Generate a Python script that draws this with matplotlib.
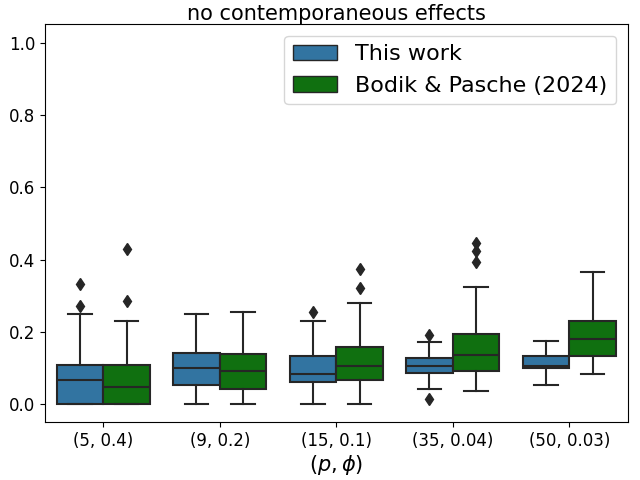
import matplotlib
matplotlib.use("Agg")
import matplotlib.pyplot as plt
import numpy as np

# (p, phi) settings
categories = ["(5, 0.4)", "(9, 0.2)", "(15, 0.1)", "(35, 0.04)", "(50, 0.03)"]
methods = ["This work", "Bodik & Pasche (2024)"]
colors = ["#3274a1", "#107010"]

# box summaries, one list per method
this_q1 = [0.0, 0.054, 0.062, 0.088, 0.101]
this_med = [0.067, 0.101, 0.083, 0.106, 0.106]
this_q3 = [0.108, 0.142, 0.133, 0.129, 0.133]
this_lo = [0.0, 0.0, 0.0, 0.042, 0.054]
this_hi = [0.251, 0.251, 0.231, 0.172, 0.176]
this_fliers = [[0.272, 0.332], [], [0.256], [0.192, 0.016], []]

bp_q1 = [0.0, 0.043, 0.068, 0.093, 0.134]
bp_med = [0.048, 0.092, 0.106, 0.137, 0.180]
bp_q3 = [0.108, 0.139, 0.158, 0.194, 0.231]
bp_lo = [0.0, 0.0, 0.0, 0.036, 0.084]
bp_hi = [0.231, 0.256, 0.281, 0.325, 0.367]
bp_fliers = [[0.285, 0.430], [], [0.323, 0.375], [0.395, 0.424, 0.447], []]


def make_stats(q1, med, q3, lo, hi, fl):
    return [dict(q1=a, med=b, q3=c, whislo=d, whishi=e, fliers=np.array(f))
            for a, b, c, d, e, f in zip(q1, med, q3, lo, hi, fl)]


stats = [make_stats(this_q1, this_med, this_q3, this_lo, this_hi, this_fliers),
         make_stats(bp_q1, bp_med, bp_q3, bp_lo, bp_hi, bp_fliers)]

line_col = "#262626"
fig, ax = plt.subplots(figsize=(6.4, 4.8), dpi=100)
fig.subplots_adjust(left=0.0703, right=0.9805, top=0.949, bottom=0.1208)
x = np.arange(len(categories))
w = 0.4
for i, (st, col) in enumerate(zip(stats, colors)):
    pos = x - w / 2 + i * w
    ax.bxp(st, positions=pos, widths=w, patch_artist=True, manage_ticks=False,
           boxprops=dict(facecolor=col, edgecolor=line_col, linewidth=1.5),
           medianprops=dict(color=line_col, linewidth=1.5),
           whiskerprops=dict(color=line_col, linewidth=1.5),
           capprops=dict(color=line_col, linewidth=1.5),
           flierprops=dict(marker="d", markerfacecolor=line_col, markeredgecolor=line_col,
                           markersize=6, linestyle="none"),
           capwidths=w / 2)

ax.set_xticks(x)
ax.set_xticklabels(categories, fontsize=12)
ax.tick_params(axis="y", labelsize=12)
ax.set_xlim(-0.5, len(categories) - 0.5)
ax.set_ylim(-0.049, 1.051)
ax.set_yticks(np.arange(0, 1.01, 0.2))
ax.set_xlabel(r"$(p, \phi)$", fontsize=15, labelpad=2)
ax.set_title("no contemporaneous effects", fontsize=15, pad=2)

handles = [plt.Rectangle((0, 0), 1, 1, facecolor=c, edgecolor=line_col, linewidth=1) for c in colors]
ax.legend(handles, methods, loc="upper right", fontsize=16)

fig.savefig("out.png")
